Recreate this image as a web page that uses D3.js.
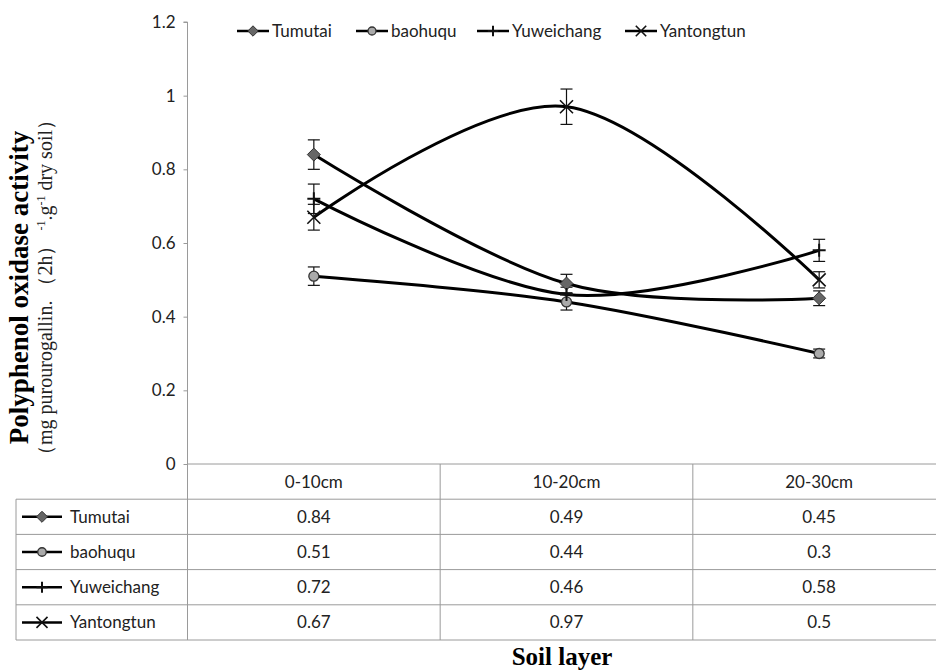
<!DOCTYPE html>
<html>
<head>
<meta charset="utf-8">
<script src="https://cdn.jsdelivr.net/npm/d3@7"></script>
<style>
  body { margin: 0; background: #fff; }
  svg { display: block; }
</style>
</head>
<body>
<div id="chart"></div>
<script>
// Soil layers (x categories)
const layers = ["0-10cm", "10-20cm", "20-30cm"];
const seriesNames = ["Tumutai", "baohuqu", "Yuweichang", "Yantongtun"];

const tumutai = [0.84, 0.49, 0.45];
const baohuqu = [0.51, 0.44, 0.3];
const yuweichang = [0.72, 0.46, 0.58];
const yantongtun = [0.67, 0.97, 0.5];

// Error bar half-lengths
const tumutaiErr = [0.04, 0.025, 0.02];
const baohuquErr = [0.025, 0.022, 0.012];
const yuweichangErr = [0.04, 0.02, 0.03];
const yantongtunErr = [0.035, 0.048, 0.022];

const yTicks = [0, 0.2, 0.4, 0.6, 0.8, 1, 1.2];

const series = [
    { name: seriesNames[0], values: tumutai, err: tumutaiErr, marker: "diamond" },
    { name: seriesNames[1], values: baohuqu, err: baohuquErr, marker: "circle" },
    { name: seriesNames[2], values: yuweichang, err: yuweichangErr, marker: "plus" },
    { name: seriesNames[3], values: yantongtun, err: yantongtunErr, marker: "cross" }
];

const width = 936, height = 671;
const plotLeft = 187.5, plotRight = 945.5, plotTop = 22, plotBottom = 464;
const rowH = 35.2;
const tableLeft = 16;
const gridColor = "#9a9a9a";
const tickFont = "Lato, 'Open Sans', sans-serif";
const serif = "'Liberation Serif', 'Times New Roman', serif";

const svg = d3.select("#chart")
    .append("svg")
    .attr("width", width)
    .attr("height", height);

const x = d3.scaleBand()
    .domain(layers)
    .range([plotLeft, plotRight]);

const y = d3.scaleLinear()
    .domain([0, 1.2])
    .range([plotBottom, plotTop]);

// Y axis
const yAxis = svg.append("g")
    .attr("transform", `translate(${plotLeft},0)`)
    .call(d3.axisLeft(y).tickValues(yTicks).tickSize(4).tickPadding(8)
        .tickFormat(d => d3.format("~g")(d)));
yAxis.select(".domain").attr("stroke", gridColor).attr("d", `M-4,${y(1.2)}H0V${y(0)}`);
yAxis.selectAll(".tick line").attr("stroke", gridColor);
yAxis.selectAll(".tick text")
    .style("font-family", tickFont)
    .style("font-size", "17px")
    .attr("fill", "#222");

// Y axis title
const midY = 287.5;
svg.append("text")
    .attr("transform", `translate(28,${midY}) rotate(-90)`)
    .style("text-anchor", "middle")
    .style("font-family", serif)
    .style("font-weight", "bold")
    .style("font-size", "27px")
    .text("Polyphenol oxidase activity");

const sub = svg.append("text")
    .attr("transform", `translate(52,${midY}) rotate(-90)`)
    .style("text-anchor", "middle")
    .style("font-family", serif)
    .style("font-size", "20px")
    .attr("fill", "#222");
sub.append("tspan").text("（mg purourogallin.  （2h）    ");
sub.append("tspan").attr("baseline-shift", "super").style("font-size", "12px").text("-1");
sub.append("tspan").text(".g");
sub.append("tspan").attr("baseline-shift", "super").style("font-size", "12px").text("-1");
sub.append("tspan").text(" dry soil）");

// Table grid
const table = svg.append("g").attr("stroke", gridColor).attr("stroke-width", 1);
const tableBottom = plotBottom + rowH * 5;
for (let i = 0; i <= 5; i++) {
    const yy = plotBottom + rowH * i;
    table.append("line")
        .attr("x1", i === 0 ? plotLeft : tableLeft)
        .attr("x2", width)
        .attr("y1", yy).attr("y2", yy);
}
table.append("line").attr("x1", tableLeft).attr("x2", tableLeft)
    .attr("y1", plotBottom + rowH).attr("y2", tableBottom);
[plotLeft, ...layers.slice(1).map(d => x(d))].forEach(xx => {
    table.append("line").attr("x1", xx).attr("x2", xx)
        .attr("y1", plotBottom).attr("y2", tableBottom);
});

// Table header labels
svg.selectAll(".hdr")
    .data(layers)
    .enter()
    .append("text")
    .attr("x", d => x(d) + x.bandwidth() / 2)
    .attr("y", plotBottom + rowH / 2 + 6)
    .style("text-anchor", "middle")
    .style("font-family", tickFont)
    .style("font-size", "17px")
    .attr("fill", "#222")
    .text(d => d);

// Marker drawing helper
function drawMarker(g, type, cx, cy, s) {
    s = s || 1;
    if (type === "diamond") {
        const r = 6.5 * s;
        g.append("path")
            .attr("d", `M${cx},${cy - r}L${cx + r},${cy}L${cx},${cy + r}L${cx - r},${cy}Z`)
            .attr("fill", "#666").attr("stroke", "#333").attr("stroke-width", 1);
    } else if (type === "circle") {
        g.append("circle")
            .attr("cx", cx).attr("cy", cy).attr("r", 5 * s)
            .attr("fill", "#aaa").attr("stroke", "#333").attr("stroke-width", 1.3);
    } else if (type === "plus") {
        const r = 6.5 * s;
        g.append("path")
            .attr("d", `M${cx - r},${cy}H${cx + r}M${cx},${cy - r}V${cy + r}`)
            .attr("stroke", "#111").attr("stroke-width", 2);
    } else if (type === "cross") {
        const r = 6.5 * s;
        g.append("path")
            .attr("d", `M${cx - r},${cy - r}L${cx + r},${cy + r}M${cx - r},${cy + r}L${cx + r},${cy - r}`)
            .attr("stroke", "#111").attr("stroke-width", 1.6);
    }
}

// Table body rows: key, name, values
series.forEach((s, i) => {
    const rowMid = plotBottom + rowH * (i + 1) + rowH / 2;
    const key = svg.append("g");
    key.append("line")
        .attr("x1", 22).attr("x2", 62)
        .attr("y1", rowMid).attr("y2", rowMid)
        .attr("stroke", "#000").attr("stroke-width", 2.5);
    drawMarker(key, s.marker, 42, rowMid, 0.85);
    svg.append("text")
        .attr("x", 70)
        .attr("y", rowMid + 6)
        .style("font-family", tickFont)
        .style("font-size", "17px")
        .attr("fill", "#222")
        .text(s.name);
    svg.selectAll(null)
        .data(s.values)
        .enter()
        .append("text")
        .attr("x", (d, j) => x(layers[j]) + x.bandwidth() / 2)
        .attr("y", rowMid + 6)
        .style("text-anchor", "middle")
        .style("font-family", tickFont)
        .style("font-size", "17px")
        .attr("fill", "#222")
        .text(d => d);
});

// X axis title
svg.append("text")
    .attr("x", 562)
    .attr("y", 665)
    .style("text-anchor", "middle")
    .style("font-family", serif)
    .style("font-weight", "bold")
    .style("font-size", "25px")
    .text("Soil layer");

// Smoothed lines
const line = d3.line()
    .x((d, j) => x(layers[j]) + x.bandwidth() / 2)
    .y(d => y(d))
    .curve(d3.curveCatmullRom.alpha(0));

series.forEach(s => {
    svg.append("path")
        .datum(s.values)
        .attr("fill", "none")
        .attr("stroke", "#000")
        .attr("stroke-width", 3)
        .attr("d", line);
});

// Error bars
series.forEach(s => {
    s.values.forEach((v, j) => {
        const cx = x(layers[j]) + x.bandwidth() / 2;
        const top = y(v + s.err[j]), bot = y(v - s.err[j]);
        const g = svg.append("g").attr("stroke", "#111").attr("stroke-width", 1.2);
        g.append("line").attr("x1", cx).attr("x2", cx).attr("y1", top).attr("y2", bot);
        g.append("line").attr("x1", cx - 6).attr("x2", cx + 6).attr("y1", top).attr("y2", top);
        g.append("line").attr("x1", cx - 6).attr("x2", cx + 6).attr("y1", bot).attr("y2", bot);
    });
});

// Markers
series.forEach(s => {
    s.values.forEach((v, j) => {
        drawMarker(svg.append("g"), s.marker, x(layers[j]) + x.bandwidth() / 2, y(v), 1);
    });
});

// Legend at top
const legendX = [237, 356, 477, 625];
series.forEach((s, i) => {
    const lg = svg.append("g").attr("transform", `translate(${legendX[i]},31)`);
    lg.append("line")
        .attr("x1", 0).attr("x2", 32)
        .attr("y1", 0).attr("y2", 0)
        .attr("stroke", "#000").attr("stroke-width", 2.5);
    drawMarker(lg, s.marker, 16, 0, 0.8);
    lg.append("text")
        .attr("x", 35)
        .attr("y", 6)
        .style("font-family", tickFont)
        .style("font-size", "17px")
        .attr("fill", "#222")
        .text(s.name);
});
</script>
</body>
</html>
